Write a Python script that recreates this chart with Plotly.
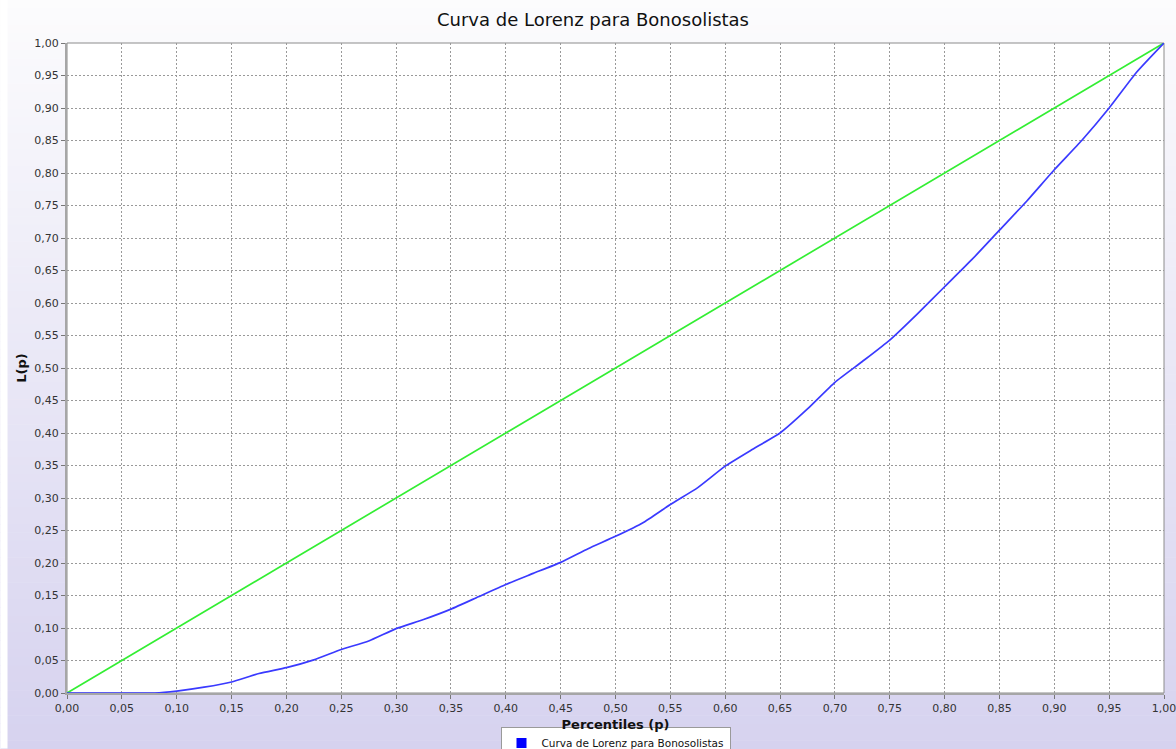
import plotly.graph_objects as go

# ---- data ----
p_values = [0.00, 0.05, 0.08, 0.10, 0.125, 0.15, 0.175, 0.20, 0.225, 0.25,
            0.275, 0.30, 0.325, 0.35, 0.375, 0.40, 0.425, 0.45, 0.475, 0.50,
            0.525, 0.55, 0.575, 0.60, 0.625, 0.65, 0.675, 0.70, 0.725, 0.75,
            0.775, 0.80, 0.825, 0.85, 0.875, 0.90, 0.925, 0.95, 0.975, 1.00]
lorenz_values = [0.000, 0.000, 0.000, 0.003, 0.009, 0.017, 0.030, 0.039, 0.051, 0.067,
                 0.080, 0.099, 0.113, 0.129, 0.148, 0.167, 0.184, 0.201, 0.222, 0.241,
                 0.262, 0.290, 0.316, 0.349, 0.375, 0.400, 0.437, 0.478, 0.510, 0.543,
                 0.583, 0.625, 0.667, 0.712, 0.757, 0.805, 0.850, 0.900, 0.955, 1.000]
equality_x = [0.0, 1.0]
equality_y = [0.0, 1.0]

title_text = "Curva de Lorenz para Bonosolistas"
series_name = "Curva de Lorenz para Bonosolistas"
x_title = "Percentiles (p)"
y_title = "L(p)"

# ---- layout geometry ----
W, H = 1176, 749
ML, MR, MT, MB = 66.5, 12, 43, 55.5
PW = W - ML - MR
PH = H - MT - MB


def xp(px):
    return (px - ML) / PW


def yp(py):
    return (H - MB - py) / PH


# background gradient (top near white -> bottom lavender)
top_c = (252, 252, 253)
bot_c = (214, 210, 239)
shapes = []
N = 90
for i in range(N):
    py0 = H * i / N
    py1 = H * (i + 1) / N + 0.6
    t = (i + 0.5) / N
    c = tuple(round(top_c[k] + (bot_c[k] - top_c[k]) * t) for k in range(3))
    shapes.append(dict(type="rect", xref="paper", yref="paper", layer="below",
                       x0=xp(0), x1=xp(W), y0=yp(py1), y1=yp(py0),
                       line=dict(width=0), fillcolor="rgb(%d,%d,%d)" % c))
# white strip at left edge
shapes.append(dict(type="rect", xref="paper", yref="paper", layer="below",
                   x0=xp(0), x1=xp(7), y0=yp(H), y1=yp(0),
                   line=dict(width=0), fillcolor="white"))
# plot area
shapes.append(dict(type="rect", xref="paper", yref="paper", layer="below",
                   x0=0, x1=1, y0=0, y1=1,
                   line=dict(color="#8c8c8c", width=1), fillcolor="white"))

fig = go.Figure()
fig.add_trace(go.Scatter(x=equality_x, y=equality_y, mode="lines",
                         line=dict(color="#33ee33", width=1.7),
                         showlegend=False, hoverinfo="skip"))
fig.add_trace(go.Scatter(x=p_values, y=lorenz_values, mode="lines",
                         line=dict(color="#3a3aff", width=1.7, shape="spline", smoothing=0.5),
                         showlegend=False))
# legend entry (square swatch)
fig.add_trace(go.Scatter(x=[None], y=[None], mode="markers",
                         marker=dict(symbol="square", size=10, color="#0000ff"),
                         name=series_name, showlegend=True))

axis_common = dict(
    range=[0, 1], dtick=0.05, tick0=0, tickformat=".2f",
    showgrid=True, gridcolor="#999999", gridwidth=1, griddash="2px,2px",
    zeroline=False, showline=True, linecolor="#a6a6a6", linewidth=2,
    ticks="outside", ticklen=4, tickcolor="#777777", tickwidth=1,
    tickfont=dict(family="DejaVu Sans", size=11, color="#333333"),
    ticklabeloverflow="allow",
    layer="below traces", fixedrange=True, automargin=False,
)

fig.update_layout(
    width=W, height=H,
    margin=dict(l=ML, r=MR, t=MT, b=MB, pad=0, autoexpand=False),
    paper_bgcolor="white", plot_bgcolor="white",
    separators=",.",
    title=dict(text=title_text, x=593 / W, xref="container", xanchor="center",
               y=1 - 20 / H, yanchor="middle",
               font=dict(family="DejaVu Sans", size=18, color="#111111")),
    xaxis=dict(axis_common,
               title=dict(text="<b>" + x_title + "</b>", standoff=6,
                          font=dict(family="DejaVu Sans", size=13, color="#111111"))),
    yaxis=dict(axis_common,
               title=dict(text="<b>" + y_title + "</b>", standoff=5,
                          font=dict(family="DejaVu Sans", size=13, color="#111111"))),
    legend=dict(orientation="h", x=0.5, xanchor="center", y=yp(728), yanchor="top",
                bgcolor="white", bordercolor="#9a9a9a", borderwidth=1,
                font=dict(family="DejaVu Sans", size=10.5, color="#111111"),
                itemwidth=30, tracegroupgap=0),
    shapes=shapes,
    showlegend=True,
)

fig.write_html("out.html",
               config={"displayModeBar": False},
               post_script="document.body.style.margin='0';document.body.style.overflow='hidden';")
